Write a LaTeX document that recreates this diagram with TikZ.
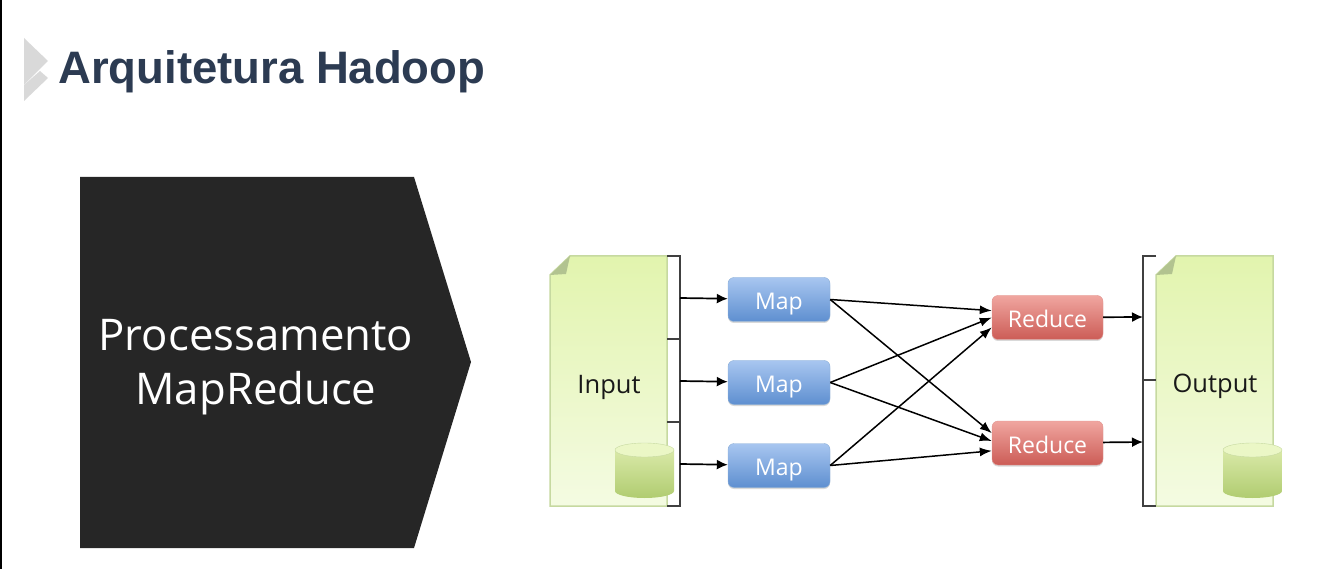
\documentclass[tikz,border=0pt]{standalone}
\usepackage{fontspec}
\setmainfont{Open Sans}
\newfontfamily\titlefont{Liberation Sans}
\usetikzlibrary{arrows.meta, positioning, shadows, shapes.geometric}
\definecolor{slate}{HTML}{2C3B52}
\definecolor{panel}{HTML}{262626}
\definecolor{pagefill}{HTML}{E2F4AE}
\definecolor{pagelight}{HTML}{F4FBE2}
\definecolor{pageline}{HTML}{C6D9A0}
\definecolor{canfill}{HTML}{D9E9A8}
\definecolor{canshade}{HTML}{B0CC70}
\tikzset{
    lane/.style={-{Latex[length=11pt,width=10pt]},black,line width=1.7pt},
    cross/.style={-{Latex[length=12pt,width=9pt]},black,line width=1.5pt},
    bracket/.style={line width=1.5pt,color=black!75},
    taskbox/.style={rounded corners=6pt,minimum height=44pt,inner sep=0pt,text height=20pt,text depth=0pt,
        font=\fontsize{23}{26}\selectfont,text=white,
        drop shadow={shadow xshift=0pt,shadow yshift=-1.5pt,opacity=.3}},
    mapbox/.style={taskbox,minimum width=102pt,draw={rgb,255:red,140;green,175;blue,215},
        top color={rgb,255:red,168;green,198;blue,240},bottom color={rgb,255:red,94;green,143;blue,208}},
    reducebox/.style={taskbox,minimum width=111pt,draw={rgb,255:red,225;green,150;blue,145},
        top color={rgb,255:red,240;green,166;blue,160},bottom color={rgb,255:red,204;green,92;blue,86}},
    pagelabel/.style={font=\fontsize{25.5}{28}\selectfont,text=black!90},
    pagebody/.style={draw=pageline,line width=1.5pt,top color=pagefill,bottom color=pagelight},
    pagefold/.style={fill=pageline!90!black},
    canbody/.style={top color=canfill,bottom color=canshade},
    cantop/.style={fill=pagefill!70!white,draw=pageline},
}
\begin{document}
\begin{tikzpicture}[x=1pt,y=-1pt]
    \useasboundingbox (0,0) rectangle (1323,569);
    \fill[black] (0,0) rectangle (1.5,569);

    % title
    \fill[black!15] (24,38) -- (48,61) -- (24,85) -- cycle;
    \fill[black!15] (24,85) -- (40,71) -- (48,78) -- (24,101) -- cycle;
    \node[anchor=west,inner sep=0pt,text=slate,font=\titlefont\bfseries\fontsize{45.5}{50}\selectfont] (title) at (58,72) {Arquitetura Hadoop};

    % left panel
    \fill[panel] (80,177) -- (414,177) -- (471,362) -- (414,548) -- (80,548) -- cycle;
    \node[align=center,text=white,font=\fontsize{43.7}{54}\selectfont] (panel) at (256,367) {Processamento\\MapReduce};

    % input file
    \path[pagebody] (570,256) -- (667,256) -- (667,506) -- (550,506) -- (550,275) -- cycle;
    \fill[pagefold] (570,256) -- (566,274) -- (550,275) -- cycle;
    \node[pagelabel] (input) at (609,387) {Input};
    \draw[bracket] (667,256) -- (680,256) -- (680,506) -- (667,506);
    \draw[bracket] (667,339) -- (680,339);
    \draw[bracket] (667,422) -- (680,422);
    \coordinate (in1) at (680,298);
    \coordinate (in2) at (680,381);
    \coordinate (in3) at (680,464);

    % cylinder
    \path[canbody] (615,450) -- (615,491) arc[start angle=180,end angle=360,x radius=29.5,y radius=-7]
        -- (674,450) -- cycle;
    \path[cantop] (644.5,450) ellipse[x radius=29.5,y radius=7];

    % output file
    \path[pagebody] (1176,256) -- (1273,256) -- (1273,506) -- (1156,506) -- (1156,275) -- cycle;
    \fill[pagefold] (1176,256) -- (1172,274) -- (1156,275) -- cycle;
    \node[pagelabel] (output) at (1215,386) {Output};
    \draw[bracket] (1156,256) -- (1143,256) -- (1143,506) -- (1156,506);
    \draw[bracket] (1143,380) -- (1156,380);
    \coordinate (out1) at (1143,317);
    \coordinate (out2) at (1143,442);
    \path[canbody] (1223,450) -- (1223,491) arc[start angle=180,end angle=360,x radius=29.5,y radius=-7]
        -- (1282,450) -- cycle;
    \path[cantop] (1252.5,450) ellipse[x radius=29.5,y radius=7];

    % tasks
    \node[mapbox] (map1) at (779,299.5) {Map};
    \node[mapbox] (map2) at (779,382.5) {Map};
    \node[mapbox] (map3) at (779,465.5) {Map};
    \node[reducebox] (red1) at (1047.5,317.5) {Reduce};
    \node[reducebox] (red2) at (1047.5,443) {Reduce};

    \draw[lane] (in1) -- (map1);
    \draw[lane] (in2) -- (map2);
    \draw[lane] (in3) -- (map3);
    \draw[lane] (red1) -- (out1);
    \draw[lane] (red2) -- (out2);

    \draw[cross] (map1.east) -- (red1.173);
    \draw[cross] (map1.east) -- (red2.170);
    \draw[cross] (map2.east) -- (red1.180);
    \draw[cross] (map2.east) -- (red2.178);
    \draw[cross] (map3.east) -- (red1.190);
    \draw[cross] (map3.east) -- (red2.188);
\end{tikzpicture}
\end{document}
